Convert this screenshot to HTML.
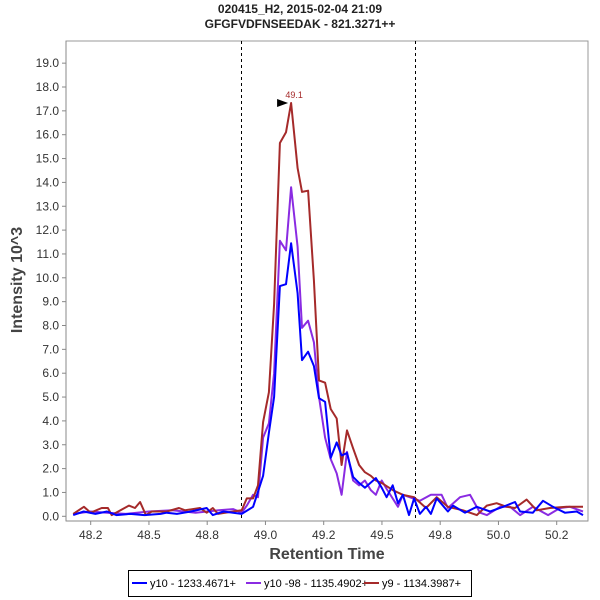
<!DOCTYPE html>
<html><head><meta charset="utf-8"><style>
body{margin:0;background:#fff;}
svg{display:block;font-family:"Liberation Sans",sans-serif;}
</style></head><body>
<svg id="chart" width="600" height="600" xmlns="http://www.w3.org/2000/svg">
<text x="300" y="13" text-anchor="middle" font-size="12" font-weight="bold" fill="#222">020415_H2, 2015-02-04 21:09</text>
<text x="300" y="28" text-anchor="middle" font-size="12" font-weight="bold" fill="#222">GFGFVDFNSEEDAK - 821.3271++</text>
<rect x="66" y="41" width="522" height="480" fill="none" stroke="#999"/>
<g id="yticks"></g>
<g id="xticks"></g>
<g id="series"></g>
<text x="22" y="280" transform="rotate(-90 22 280)" text-anchor="middle" font-size="16" font-weight="bold" fill="#444">Intensity 10^3</text>
<text x="327" y="559" text-anchor="middle" font-size="16" font-weight="bold" fill="#444">Retention Time</text>
<g>
<rect x="128.5" y="570.5" width="343" height="26" fill="#fff" stroke="#000"/>
<line x1="132" y1="583" x2="147" y2="583" stroke="#0000ff" stroke-width="2"/>
<text x="150" y="587" font-size="11" fill="#000">y10 - 1233.4671+</text>
<line x1="246" y1="583" x2="261" y2="583" stroke="#8a2be2" stroke-width="2"/>
<text x="264" y="587" font-size="11" fill="#000">y10 -98 - 1135.4902+</text>
<line x1="364" y1="583" x2="379" y2="583" stroke="#a52a2a" stroke-width="2"/>
<text x="382" y="587" font-size="11" fill="#000">y9 - 1134.3987+</text>
</g>
</svg>
<script>
const yTicks=[0,1,2,3,4,5,6,7,8,9,10,11,12,13,14,15,16,17,18,19];
const xTicks=[48.25,48.5,48.75,49.0,49.25,49.5,49.75,50.0,50.25];
const xTickLabels=["48.2","48.5","48.8","49.0","49.2","49.5","49.8","50.0","50.2"];
const boundaryTimes=[48.897,49.64];
const peakTime=49.11;
const peakValue=17.33;
const peakLabel="49.1";
const redTimes=[48.175,48.221,48.25,48.297,48.324,48.34,48.414,48.44,48.462,48.487,48.512,48.576,48.629,48.655,48.719,48.748,48.774,48.796,48.861,48.898,48.92,48.947,48.968,48.99,49.015,49.037,49.062,49.088,49.11,49.138,49.157,49.183,49.208,49.23,49.256,49.28,49.306,49.327,49.35,49.376,49.402,49.427,49.452,49.474,49.499,49.546,49.59,49.638,49.689,49.735,49.783,49.848,49.907,49.95,49.992,50.035,50.071,50.121,50.164,50.221,50.293,50.336,50.363];
const redValues=[0.1,0.4,0.15,0.35,0.35,0.05,0.45,0.35,0.6,0.05,0.2,0.2,0.35,0.25,0.35,0.15,0.35,0.1,0.2,0.25,0.75,0.75,1.3,3.95,5.2,8.9,15.65,16.1,17.33,14.6,13.6,13.65,9.9,5.7,5.6,4.5,4.1,2.15,3.6,2.85,2.15,1.85,1.7,1.5,1.4,1.1,0.9,0.8,0.35,0.8,0.4,0.25,0.05,0.45,0.55,0.4,0.35,0.7,0.25,0.35,0.4,0.4,0.4];
const purpleTimes=[48.175,48.25,48.32,48.4,48.5,48.6,48.7,48.8,48.861,48.898,48.92,48.947,48.968,48.99,49.015,49.037,49.062,49.088,49.11,49.138,49.157,49.183,49.208,49.23,49.256,49.28,49.306,49.327,49.35,49.376,49.402,49.427,49.452,49.474,49.499,49.52,49.569,49.59,49.663,49.71,49.756,49.783,49.835,49.878,49.921,49.95,50.007,50.05,50.093,50.148,50.213,50.264,50.307,50.363];
const purpleValues=[0.1,0.2,0.15,0.1,0.2,0.25,0.15,0.25,0.3,0.15,0.45,0.9,0.8,3.3,3.9,6.0,11.55,11.15,13.8,11.3,7.9,8.2,7.3,5.0,3.3,2.4,1.8,0.9,2.7,1.5,1.3,1.5,1.1,0.9,1.5,1.15,0.4,0.9,0.65,0.9,0.9,0.35,0.8,0.9,0.15,0.05,0.4,0.4,0.05,0.4,0.05,0.35,0.4,0.2];
const blueTimes=[48.175,48.22,48.27,48.32,48.36,48.42,48.48,48.55,48.576,48.62,48.68,48.748,48.774,48.82,48.861,48.898,48.947,48.99,49.015,49.037,49.062,49.088,49.11,49.138,49.157,49.183,49.208,49.23,49.256,49.28,49.306,49.327,49.35,49.376,49.402,49.427,49.474,49.499,49.52,49.546,49.569,49.59,49.616,49.638,49.663,49.689,49.71,49.735,49.783,49.805,49.856,49.907,49.964,50.02,50.071,50.093,50.148,50.191,50.234,50.285,50.336,50.363];
const blueValues=[0.05,0.2,0.1,0.2,0.05,0.1,0.05,0.1,0.15,0.1,0.2,0.35,0.05,0.2,0.15,0.1,0.4,1.7,3.5,5.0,9.65,9.73,11.45,9.35,6.55,6.9,6.3,4.95,4.8,2.45,3.1,2.55,2.65,1.65,1.4,1.2,1.6,1.2,0.8,1.3,0.55,0.9,0.05,0.75,0.1,0.4,0.1,0.75,0.2,0.45,0.15,0.4,0.2,0.4,0.6,0.2,0.15,0.65,0.4,0.15,0.2,0.05];

const NS="http://www.w3.org/2000/svg";
function xScale(t){return 90.7+(t-48.25)*233;}
function yScale(v){return 516.3-v*23.85;}
function mk(tag,attrs,parent){const e=document.createElementNS(NS,tag);for(const k in attrs)e.setAttribute(k,attrs[k]);parent.appendChild(e);return e;}

const yg=document.getElementById('yticks');
mk('line',{x1:66,y1:41,x2:66,y2:521,stroke:'#888'},yg);
yTicks.forEach(v=>{
  const y=yScale(v);
  const tk=mk('line',{x1:62,y1:y,x2:66,y2:y,stroke:'#888'},yg);
  
  
  const tx=mk('text',{x:59,y:y+4,'text-anchor':'end','font-size':12,fill:'#333'},yg);
  tx.textContent=v.toFixed(1);
  
  
});
const xg=document.getElementById('xticks');
mk('line',{x1:66,y1:521,x2:588,y2:521,stroke:'#888'},xg);
xTicks.forEach((t,i)=>{
  const x=xScale(t);
  const tk=mk('line',{x1:x,y1:521,x2:x,y2:525,stroke:'#888'},xg);
  
  
  const tx=mk('text',{x:x,y:539,'text-anchor':'middle','font-size':12,fill:'#333'},xg);
  tx.textContent=xTickLabels[i];
  
  
});
const sg=document.getElementById('series');
boundaryTimes.forEach(t=>{
  const x=Math.round(xScale(t))+0.5;
  const l=mk('line',{x1:x,y1:41,x2:x,y2:521,stroke:'#000','stroke-dasharray':'3,3'},sg);
  
  
});
function drawSeries(ts,vs,color,name){
  const n=Math.min(ts.length,vs.length);
  const pts=[];
  for(let i=0;i<n;i++)pts.push(xScale(ts[i]).toFixed(1)+','+yScale(vs[i]).toFixed(1));
  const p=mk('polyline',{points:pts.join(' '),fill:'none',stroke:color,'stroke-width':2,'stroke-linejoin':'round'},sg);
  
  
}
drawSeries(purpleTimes,purpleValues,'#8a2be2','series-y10-98');
drawSeries(redTimes,redValues,'#a52a2a','series-y9');
drawSeries(blueTimes,blueValues,'#0000ff','series-y10');
const px=xScale(peakTime),py=yScale(peakValue);
const ar=mk('polygon',{points:(px-14)+','+(py-4)+' '+(px-3)+','+(py)+' '+(px-14)+','+(py+4),fill:'#000'},sg);


const pl=mk('text',{x:px+3,y:py-5,'text-anchor':'middle','font-size':9,fill:'#a52a2a'},sg);
pl.textContent=peakLabel;


</script>
</body></html>
